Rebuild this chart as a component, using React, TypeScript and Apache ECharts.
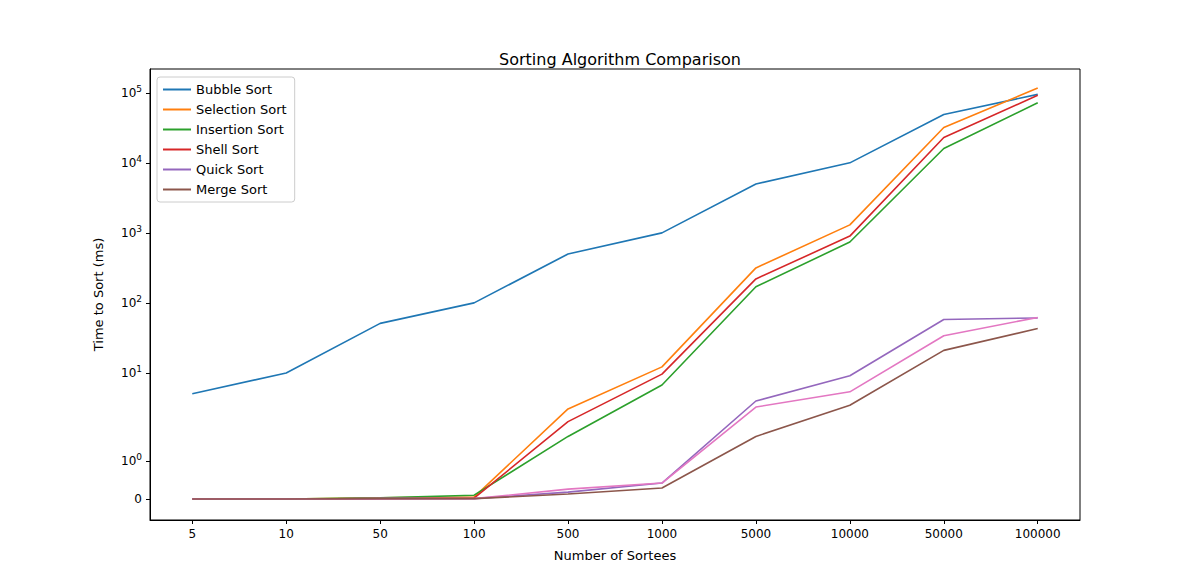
import { useEffect, useRef } from "react";
import * as echarts from "echarts";

const sizes = ["5", "10", "50", "100", "500", "1000", "5000", "10000", "50000", "100000"];
const bubble = [5.8, 10, 51, 100, 500, 1000, 5000, 10000, 49000, 95000];
const selection = [0, 0, 0.03, 0.05, 3.9, 12.2, 316, 1300, 32000, 117000];
const insertion = [0, 0, 0.03, 0.1, 1.9, 7.3, 170, 740, 16000, 72000];
const shell = [0, 0, 0.01, 0.02, 2.8, 9.7, 220, 900, 23000, 92000];
const quick = [0, 0, 0.01, 0.01, 0.18, 0.42, 4.8, 9.3, 58, 61];
const extra = [0, 0, 0.01, 0.01, 0.26, 0.42, 4.1, 6.1, 34, 62];
const merge = [0, 0, 0.01, 0.01, 0.13, 0.29, 1.9, 4.3, 21, 43];

const names = ["Bubble Sort", "Selection Sort", "Insertion Sort", "Shell Sort", "Quick Sort", "Merge Sort", ""];
const colors = ["#1f77b4", "#ff7f0e", "#2ca02c", "#d62728", "#9467bd", "#8c564b", "#e377c2"];
const yTicks = [0, 1, 10, 100, 1000, 10000, 100000];

// piecewise symlog-like mapping
function t(v: number) {
  if (v <= 1) return v * (38 / 70);
  if (v <= 10) return 38 / 70 + Math.log10(v) * (88 / 70);
  return 126 / 70 + (Math.log10(v) - 1);
}

function label(v: number) {
  if (v === 0) return "0";
  return `{b|10}{s|${Math.round(Math.log10(v))}}`;
}

export default function App() {
  const ref = useRef<HTMLDivElement>(null);
  useEffect(() => {
    if (!ref.current) return;
    const chart = echarts.init(ref.current, null, { renderer: "svg" });
    const all = [bubble, selection, insertion, shell, quick, merge, extra];
    const order = [0, 1, 2, 3, 4, 6, 5];
    const tickPos = yTicks.map(t);
    chart.setOption({
      animation: false,
      textStyle: { fontFamily: "DejaVu Sans" },
      title: { text: "Sorting Algorithm Comparison", left: 607, top: 38, textAlign: "center", textStyle: { fontSize: 16, fontWeight: "normal", color: "#000" } },
      legend: {
        data: names.slice(0, 6), orient: "vertical", left: 149, top: 69, padding: [6, 8, 6, 6],
        borderColor: "#ccc", borderWidth: 1, borderRadius: 3, itemGap: 7, itemWidth: 28, itemHeight: 2,
        icon: "rect", textStyle: { fontSize: 13, color: "#000" },
      },
      grid: { left: 142, right: 113, top: 61, bottom: 56, show: true, borderColor: "#000", borderWidth: 1 },
      xAxis: {
        type: "value", min: -0.45, max: 9.45, interval: 1,
        name: "Number of Sortees", nameLocation: "middle", nameGap: 29, nameTextStyle: { fontSize: 13, color: "#000" },
        axisLine: { onZero: false, lineStyle: { color: "#000" } }, axisTick: { lineStyle: { color: "#000" }, length: 4, customValues: sizes.map((_, i) => i) },
        axisLabel: { color: "#000", fontSize: 12, customValues: sizes.map((_, i) => i), formatter: (v: number) => sizes[Math.round(v)] ?? "" },
        splitLine: { show: false },
      },
      yAxis: {
        type: "value", min: -0.3, max: 6.14,
        name: "Time to Sort (ms)", nameLocation: "middle", nameGap: 45, nameTextStyle: { fontSize: 13, color: "#000" },
        axisLine: { show: true, onZero: false, lineStyle: { color: "#000" } },
        axisTick: { show: true, length: 4, lineStyle: { color: "#000" }, customValues: tickPos },
        axisLabel: {
          color: "#000", fontSize: 12, customValues: tickPos,
          formatter: (v: number) => { const i = tickPos.findIndex((p) => Math.abs(p - v) < 1e-6); return i >= 0 ? label(yTicks[i]) : ""; },
          rich: { b: { fontSize: 12, color: "#000" }, s: { fontSize: 9, color: "#000", padding: [0, 0, 8, 0] } },
        },
        splitLine: { show: false },
      },
      series: order.map((k) => ({
        name: names[k], type: "line", symbol: "none", data: all[k].map((v, i) => [i, t(v)]),
        lineStyle: { color: colors[k], width: 1.6 }, itemStyle: { color: colors[k] },
      })),
    });
    return () => chart.dispose();
  }, []);
  return <div ref={ref} style={{ width: 1185, height: 568 }} />;
}
